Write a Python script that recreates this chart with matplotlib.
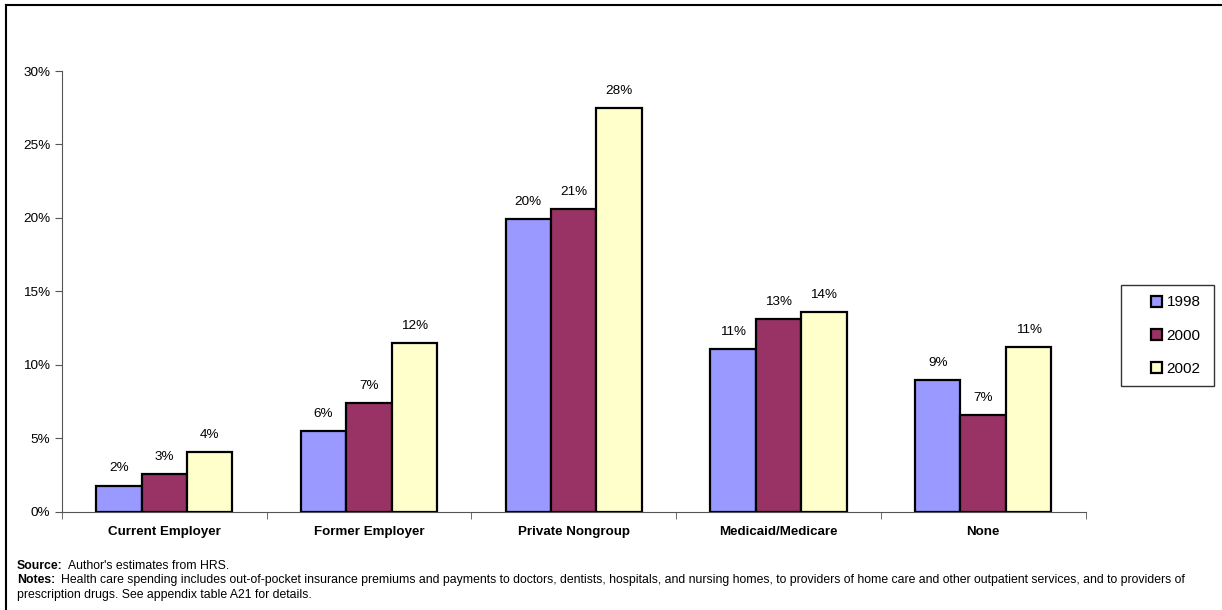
import matplotlib

matplotlib.use("Agg")
import matplotlib.pyplot as plt
import numpy as np
from matplotlib.lines import Line2D
from matplotlib.patches import Rectangle
from matplotlib.ticker import FuncFormatter, FixedLocator

plt.rcParams["font.family"] = ["Liberation Sans", "DejaVu Sans"]

categories = ["Current Employer", "Former Employer", "Private Nongroup", "Medicaid/Medicare", "None"]
years = ["1998", "2000", "2002"]
share_1998 = [1.8, 5.5, 19.9, 11.1, 9.0]
share_2000 = [2.6, 7.4, 20.6, 13.1, 6.6]
share_2002 = [4.1, 11.5, 27.5, 13.6, 11.2]
colors = ["#9999FF", "#993366", "#FFFFCC"]

source_text = "Author's estimates from HRS."
notes_text = (
    "Health care spending includes out-of-pocket insurance premiums and payments to doctors, dentists, "
    "hospitals, and nursing homes, to providers of home care and other outpatient services, and to providers of"
)
notes_text2 = "prescription drugs. See appendix table A21 for details."

fig = plt.figure(figsize=(12.22, 6.10), dpi=100)
ax = fig.add_axes([0.0507, 0.1607, 0.8376, 0.7229])

x = np.arange(len(categories))
width = 0.222
for i, (values, color, label) in enumerate(zip([share_1998, share_2000, share_2002], colors, years)):
    pos = x + (i - 1) * width
    ax.bar(pos, values, width=width, color=color, edgecolor="black", linewidth=1.6, label=label, zorder=3)
    for xp, v in zip(pos, values):
        ax.annotate(f"{v:.0f}%", (xp, v), xytext=(0, 8), textcoords="offset points",
                    ha="center", va="bottom", fontsize=9.7)

ax.set_xlim(-0.5, len(categories) - 0.5)
ax.set_ylim(0, 30)
ax.set_yticks(np.arange(0, 31, 5))
ax.yaxis.set_major_formatter(FuncFormatter(lambda v, _: f"{v:.0f}%"))
ax.set_xticks(x)
ax.set_xticklabels(categories, fontsize=9.6, fontweight="bold")
ax.tick_params(axis="x", length=0, pad=10)
ax.xaxis.set_minor_locator(FixedLocator(np.arange(-0.5, len(categories), 1.0)))
ax.tick_params(axis="x", which="minor", length=5, direction="out", color="#555555")
ax.tick_params(axis="y", labelsize=9.7, length=5, direction="out", color="#555555")
for spine in ("top", "right"):
    ax.spines[spine].set_visible(False)
ax.spines["left"].set_color("#555555")
ax.spines["bottom"].set_color("#555555")

# legend entries without frame, box drawn separately (Excel-style wide padding)
fig.legend(*ax.get_legend_handles_labels(), loc="center left", bbox_to_anchor=(0.9353, 0.45),
           bbox_transform=fig.transFigure, fontsize=11, frameon=False, borderpad=0,
           handlelength=0.72, handleheight=0.72, handletextpad=0.33, labelspacing=1.25)
fig.add_artist(Rectangle((0.9173, 0.3672), 0.0761, 0.1656, transform=fig.transFigure,
                         fill=False, edgecolor="#333333", linewidth=1.0))

note_size = 8.8
src = fig.text(0.014, 1 - 566 / 610, "Source:", fontsize=note_size, fontweight="bold", va="center")
fig.add_artist(plt.Annotation(source_text, xy=(1, 0.5), xycoords=src, xytext=(4, 0),
                              textcoords="offset points", fontsize=note_size, va="center"))
nts = fig.text(0.014, 1 - 580 / 610, "Notes:", fontsize=note_size, fontweight="bold", va="center")
fig.add_artist(plt.Annotation(notes_text, xy=(1, 0.5), xycoords=nts, xytext=(4, 0),
                              textcoords="offset points", fontsize=note_size, va="center"))
fig.text(0.014, 1 - 595 / 610, notes_text2, fontsize=note_size, va="center")

fig.add_artist(Line2D([0.005, 0.005], [0.0, 0.992], color="black", linewidth=1.5, transform=fig.transFigure))
fig.add_artist(Line2D([0.005, 1.0], [0.992, 0.992], color="black", linewidth=1.5, transform=fig.transFigure))

fig.savefig("out.png", dpi=100)
